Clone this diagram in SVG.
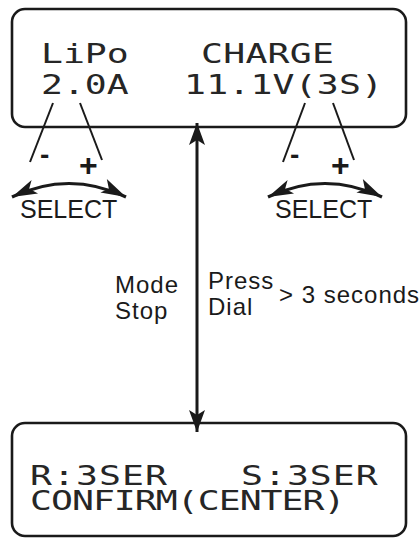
<svg xmlns="http://www.w3.org/2000/svg" width="420" height="540" viewBox="0 0 420 540">
<defs>
<style>
.box{fill:#fff;stroke:#1a1a1a;stroke-width:2.6}
.lcd{font-family:"DejaVu Sans Mono","Liberation Mono",monospace;font-size:27px;fill:#262626}
.lbl{font-family:"Liberation Sans",Arial,sans-serif;font-size:24px;letter-spacing:1px;fill:#1a1a1a}
.sel{font-family:"Liberation Sans",Arial,sans-serif;font-size:25px;fill:#1a1a1a}
.pm{font-family:"Liberation Sans",Arial,sans-serif;font-size:32px;font-weight:bold;fill:#1a1a1a}
.mn{font-family:"Liberation Sans",Arial,sans-serif;font-size:28px;font-weight:bold;fill:#1a1a1a}
.lead{stroke:#1a1a1a;stroke-width:2;fill:none}
.arc{stroke:#1a1a1a;stroke-width:3.2;fill:none;marker-start:url(#ah);marker-end:url(#ah)}
.main{stroke:#1a1a1a;stroke-width:3;fill:none;marker-start:url(#mh);marker-end:url(#mh)}
</style>
<marker id="ah" markerUnits="userSpaceOnUse" viewBox="-26 -10 28 20" refX="0" refY="0" markerWidth="28" markerHeight="20" orient="auto-start-reverse">
<path d="M0,0 L-25,-8 L-19,0 L-25,7 Z" fill="#1a1a1a"/>
</marker>
<marker id="mh" markerUnits="userSpaceOnUse" viewBox="-24 -10 26 20" refX="0" refY="0" markerWidth="26" markerHeight="20" orient="auto-start-reverse">
<path d="M0,0 L-22,-8 L-17,0 L-22,8 Z" fill="#1a1a1a"/>
</marker>
</defs>
<rect width="420" height="540" fill="#fff"/>

<g id="top-display">
<rect class="box" x="12" y="9" width="394" height="118" rx="13"/>
<text class="lcd" transform="translate(41,63) scale(1.35,1)">LiPo</text>
<text class="lcd" transform="translate(201,63) scale(1.35,1)" letter-spacing="0.2">CHARGE</text>
<text class="lcd" transform="translate(41,94) scale(1.35,1)">2.0A</text>
<text class="lcd" transform="translate(184,94) scale(1.35,1)" letter-spacing="0.15">11.1V(3S)</text>
</g>

<g id="bottom-display">
<rect class="box" x="12" y="423" width="394" height="113" rx="13"/>
<text class="lcd" transform="translate(30,485) scale(1.35,1)" letter-spacing="0.8">R:3SER</text>
<text class="lcd" transform="translate(241,485) scale(1.35,1)" letter-spacing="0.75">S:3SER</text>
<text class="lcd" transform="translate(30,510) scale(1.35,1)" letter-spacing="-0.72">CONFIRM(CENTER)</text>
</g>

<g id="left-select">
<text class="mn" x="40" y="164">-</text>
<text class="pm" x="79" y="176">+</text>
<text class="sel" x="20" y="218">SELECT</text>
</g>

<g id="right-select">
<text class="mn" x="290" y="164">-</text>
<text class="pm" x="331" y="176">+</text>
<text class="sel" x="275" y="218">SELECT</text>
</g>

<g id="transition-labels">
<text class="lbl" x="115" y="293">Mode</text>
<text class="lbl" x="115" y="319">Stop</text>
<text class="lbl" x="208" y="289">Press</text>
<text class="lbl" x="208" y="315">Dial</text>
<text class="lbl" x="279" y="303">&gt; 3 seconds</text>
</g>

<g id="connectors">
<line class="lead" x1="53" y1="103" x2="30" y2="162"/>
<line class="lead" x1="80" y1="103" x2="102" y2="160"/>
<line class="lead" x1="305" y1="103" x2="283" y2="162"/>
<line class="lead" x1="333" y1="103" x2="354" y2="160"/>
<path class="arc" d="M12,197 Q69,170 126,197"/>
<path class="arc" d="M268,197 Q325,170 382,197"/>
<line class="main" x1="197" y1="123" x2="197" y2="432"/>
</g>
</svg>
